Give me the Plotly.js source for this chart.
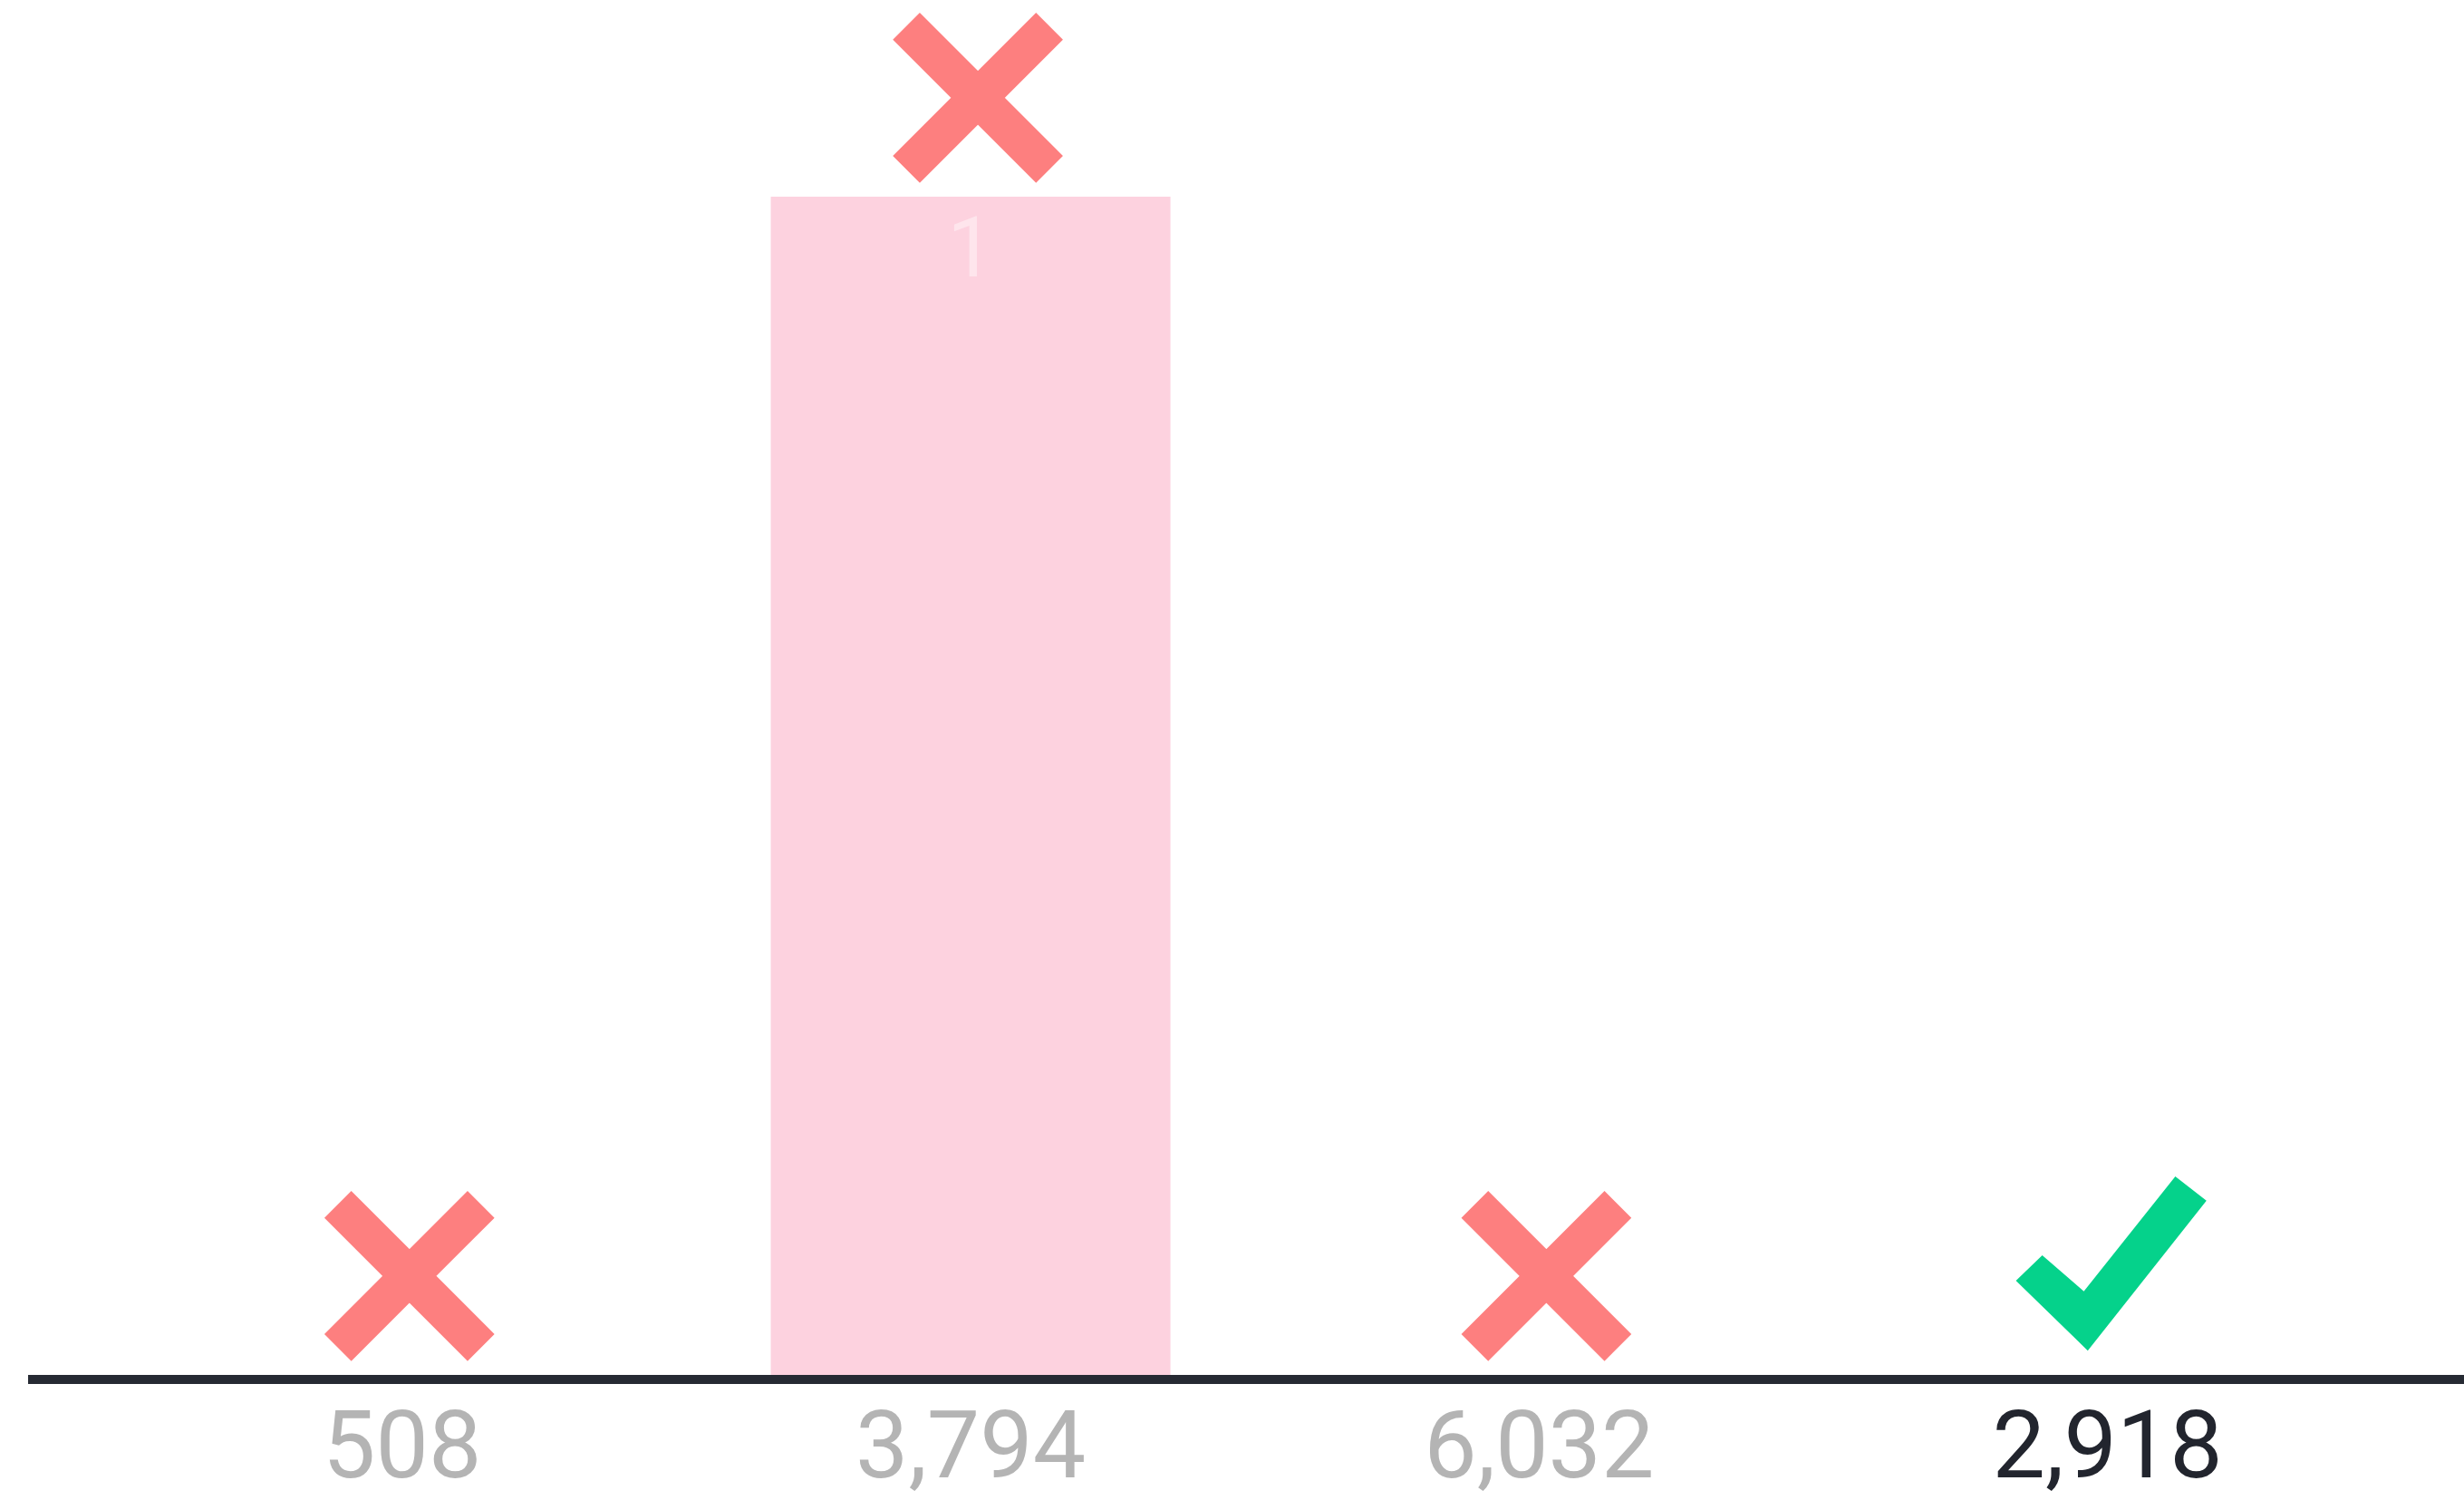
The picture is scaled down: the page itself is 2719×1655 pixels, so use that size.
<!DOCTYPE html>
<html>
<head>
<meta charset="utf-8">
<script src="https://cdn.plot.ly/plotly-3.0.1.min.js"></script>
<style>
  html, body { margin: 0; padding: 0; background: #ffffff; }
  #chart { width: 2719px; height: 1655px; }
</style>
</head>
<body>
<div id="chart"></div>
<script>
// ---- data ----
var answers = ['508', '3,794', '6,032', '2,918'];
var votes = [0, 1, 0, 0];
var isCorrect = [false, false, false, true];

// ---- styles ----
var barColor = '#fdd2df';
var wrongColor = '#fd7f7f';
var rightColor = '#05d28b';
var mutedLabel = '#b4b4b4';
var strongLabel = '#22252e';
var fontFamily = 'Roboto, "Liberation Sans", Arial, sans-serif';

var idx = answers.map(function (_, i) { return i; });
var wrongIdx = idx.filter(function (i) { return !isCorrect[i]; });
var rightIdx = idx.filter(function (i) { return isCorrect[i]; });

var ticktext = answers.map(function (a, i) {
  return '<span style="color:' + (isCorrect[i] ? strongLabel : mutedLabel) + '">' + a + '</span>';
});

var xr = [-0.658, 3.627];
var yr = [0, 1.167];
var mx = 0.0128;   // marker nudge (x units)
var my = 0.084;    // marker lift (y units)

var bars = {
  type: 'bar',
  x: answers,
  y: votes,
  marker: { color: barColor },
  text: votes.map(function (v) { return v > 0 ? String(v) : ''; }),
  textposition: 'inside',
  insidetextanchor: 'end',
  textfont: { family: fontFamily, size: 92, color: 'rgba(255,255,255,0.42)' },
  hoverinfo: 'none',
  showlegend: false
};

var crosses = {
  type: 'scatter',
  mode: 'markers',
  x: wrongIdx.map(function (i) { return answers[i]; }),
  y: wrongIdx.map(function (i) { return votes[i]; }),
  xaxis: 'x2',
  yaxis: 'y2',
  cliponaxis: false,
  marker: {
    symbol: 'x-thin',
    size: 158,
    color: wrongColor,
    line: { color: wrongColor, width: 42 }
  },
  hoverinfo: 'none',
  showlegend: false
};

var checkPath = 'M-99,104 L-72,130 L-26,90 L75,217 L107,192 L-22,29 Z';
var shapes = rightIdx.map(function (i) {
  return {
    type: 'path',
    xref: 'x', yref: 'y',
    xsizemode: 'pixel', ysizemode: 'pixel',
    xanchor: i, yanchor: votes[i],
    path: checkPath,
    fillcolor: rightColor,
    line: { color: rightColor, width: 3 },
    layer: 'above'
  };
});

var layout = {
  width: 2719,
  height: 1655,
  margin: { l: 31, r: 0, t: 0, b: 138 },
  paper_bgcolor: '#ffffff',
  plot_bgcolor: '#ffffff',
  bargap: 0.297,
  showlegend: false,
  xaxis: {
    type: 'category',
    categoryarray: answers,
    range: xr,
    showgrid: false,
    zeroline: false,
    showline: true,
    linecolor: '#262a33',
    linewidth: 10,
    ticks: '',
    tickmode: 'array',
    tickvals: answers,
    ticktext: ticktext,
    tickfont: { family: fontFamily, size: 104, color: mutedLabel },
    ticklabelstandoff: -22,
    fixedrange: true
  },
  yaxis: {
    range: yr,
    visible: false,
    showgrid: false,
    zeroline: false,
    fixedrange: true
  },
  xaxis2: {
    type: 'category',
    categoryarray: answers,
    overlaying: 'x',
    range: [xr[0] - mx, xr[1] - mx],
    visible: false,
    fixedrange: true
  },
  yaxis2: {
    overlaying: 'y',
    range: [yr[0] - my, yr[1] - my],
    visible: false,
    fixedrange: true
  },
  shapes: shapes
};

Plotly.newPlot('chart', [bars, crosses], layout, { staticPlot: true, displayModeBar: false });
</script>
</body>
</html>
